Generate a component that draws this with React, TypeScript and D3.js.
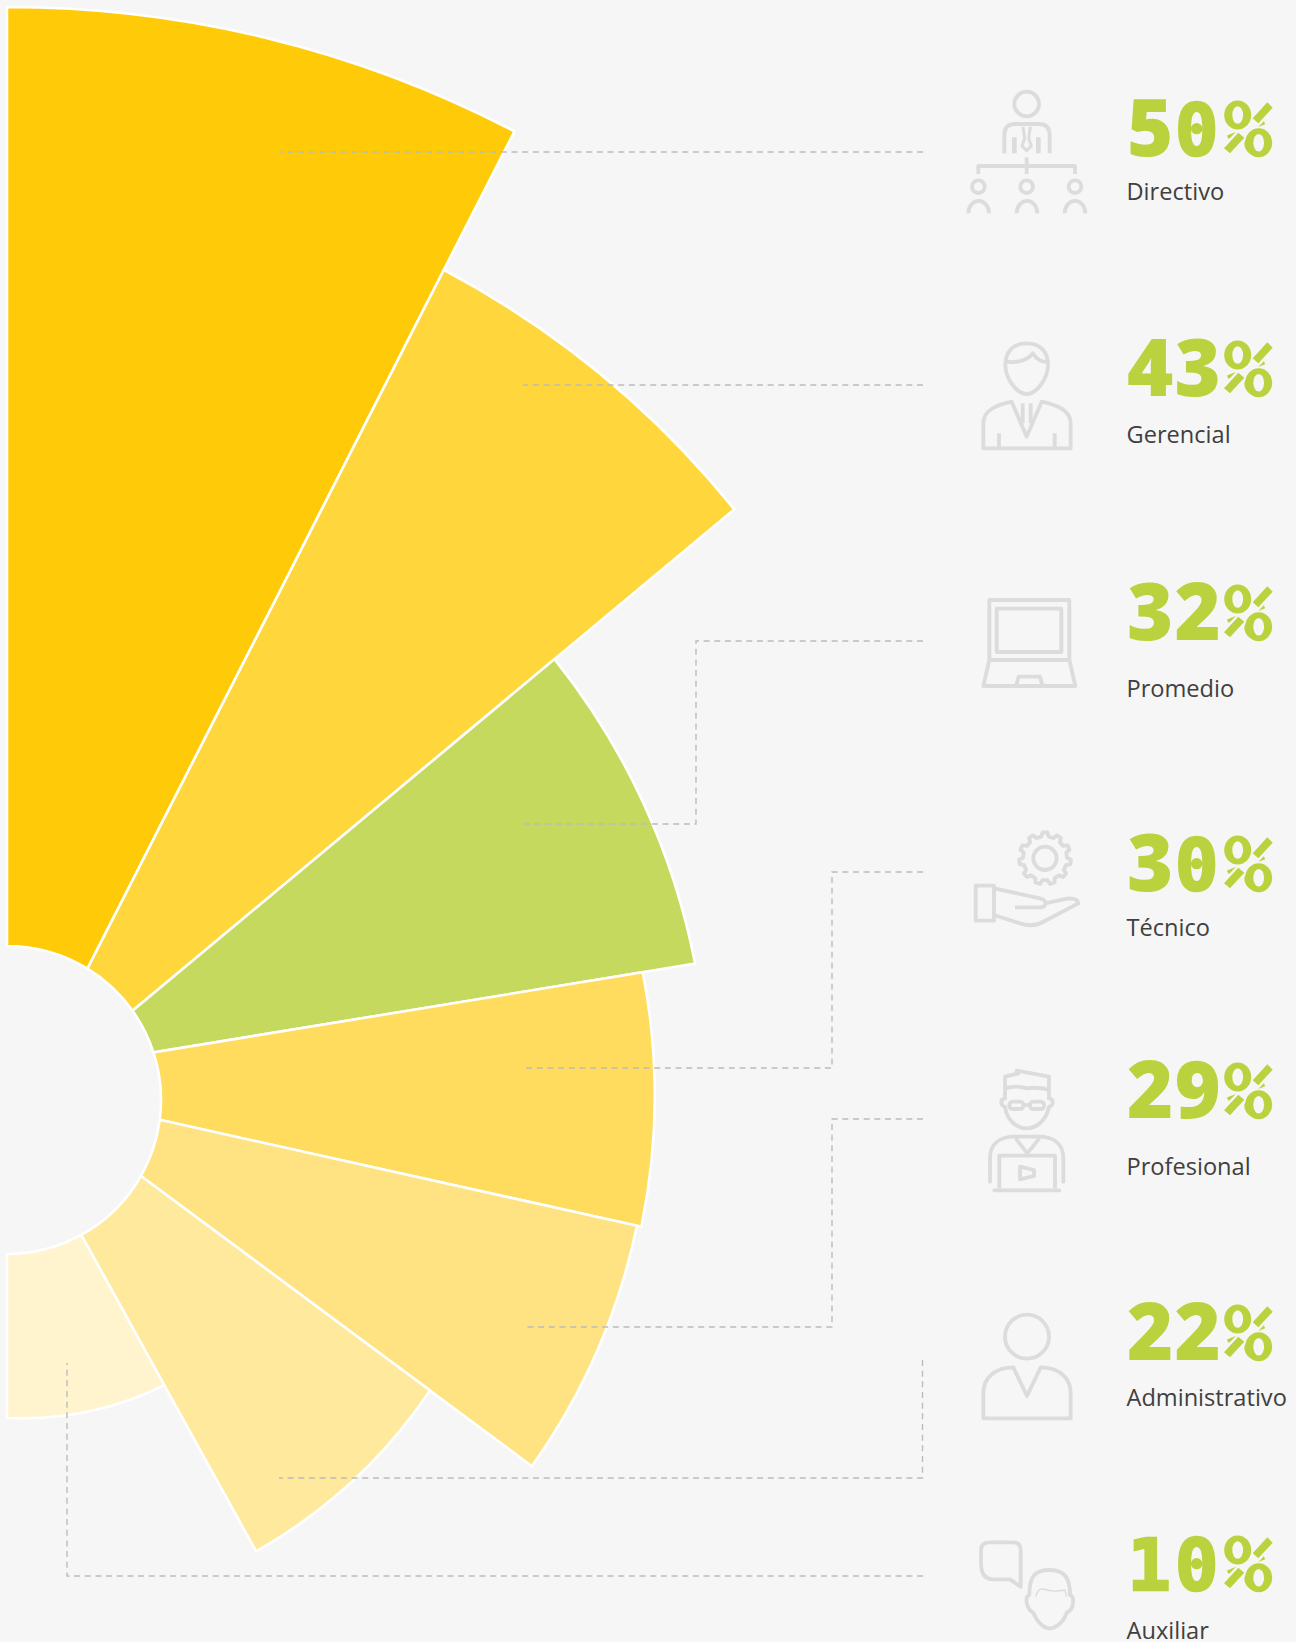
import React from "react";
import * as d3 from "d3";

const categories = ["Directivo", "Gerencial", "Promedio", "Técnico", "Profesional", "Administrativo", "Auxiliar"];
const values = [50, 43, 32, 30, 29, 22, 10];
const outerEndDeg = [27.65, 50.92, 78.79, 101.3, 124.9, 151.1, 180];
const innerDeg = [0, 31.5, 54.6, 72, 97.4, 119.6, 151.2, 180];
const fills = ["#FFCB08", "#FFD63C", "#C4D95E", "#FFDC5D", "#FFE382", "#FEE99C", "#FFF4CE"];
const numberBaselines = [156, 396, 640, 891, 1118, 1360, 1591];
const labelBaselines = [200, 443, 697, 936, 1175, 1406, 1639];

const W = 1296, H = 1642, CX = 7, CY = 1100, INNER = 154, BG = "#F6F6F6", GREEN = "#BAD23E";
const radiusStart = d3.scaleLinear().domain(values).range([1093, 938, 703, 648.5, 642.4, 513.2, 325.7]);
const radiusEnd = d3.scaleLinear().domain(values).range([1093.5, 937, 701.5, 646.9, 640, 515.5, 318]);
const toRad = (d: number) => (d * Math.PI) / 180;
const line = d3.line<number[]>();

// The seam between two petals is one straight line: the start of a petal is where
// the previous petal's end edge crosses this petal's own radius.
function onEdge(from: number[], to: number[], r: number) {
  const dx = to[0] - from[0], dy = to[1] - from[1];
  const A = dx * dx + dy * dy, B = from[0] * dx + from[1] * dy, C = from[0] * from[0] + from[1] * from[1] - r * r;
  const t = (-B + Math.sqrt(B * B - A * C)) / A;
  return [from[0] + t * dx, from[1] + t * dy];
}

function wedge(i: number) {
  const v = values[i];
  const r0 = radiusStart(v), r1 = radiusEnd(v);
  const c = d3.pointRadial(toRad(innerDeg[i + 1]), INNER);
  const d = d3.pointRadial(toRad(innerDeg[i]), INNER);
  const a = i === 0
    ? d3.pointRadial(0, r0)
    : onEdge(d, d3.pointRadial(toRad(outerEndDeg[i - 1]), radiusEnd(values[i - 1])), r0);
  const b = d3.pointRadial(toRad(outerEndDeg[i]), r1);
  const R = (r0 + r1) / 2;
  return `M${a}A${R},${R} 0 0 1 ${b}L${c}A${INNER},${INNER} 0 0 0 ${d}Z`;
}

const leaders: number[][][] = [
  [[923, 152], [279, 152]],
  [[923, 385], [523, 385]],
  [[923, 641], [696, 641], [696, 824], [523, 824]],
  [[923, 872], [832, 872], [832, 1068], [523, 1068]],
  [[923, 1119], [832, 1119], [832, 1327], [523, 1327]],
  [[922.5, 1360], [922.5, 1478], [279, 1478]],
  [[923, 1576], [67, 1576], [67, 1363]],
];

const gearPts: [number, number][] = d3.range(11).flatMap((i) => {
  const a = (i * 2 * Math.PI) / 11, s = (2 * Math.PI) / 11;
  return [
    [a - s * 0.3, 66], [a - s * 0.16, 78], [a + s * 0.16, 78], [a + s * 0.3, 66],
  ] as [number, number][];
});
const gearPath = d3.lineRadial().curve(d3.curveLinearClosed)(gearPts) as string;

const Z = ({ x, y, children }: any) => (
  <g transform={`translate(${x},${y}) scale(${1 / 3})`} fill="none" stroke="#DCDCDC" strokeWidth={11.5} strokeLinejoin="round">{children}</g>
);

const icons = [
  <Z x={950} y={70} key="0">
    <circle cx={230} cy={102} r={37} />
    <path d="M163,250V195Q163,162 196,162H266Q299,162 299,195V250" />
    <path d="M193,202V250M265,202V250" strokeWidth={14} />
    <path d="M219,170L224,205L216,228L230,242L244,228L236,205L241,170" strokeWidth={9} />
    <path d="M230,262V312M85,312V288H375V312" />
    <circle cx={85} cy={350} r={19} /><circle cx={230} cy={350} r={19} /><circle cx={375} cy={350} r={19} />
    <path d="M55,430A30,36 0 0 1 117,430M200,430A30,36 0 0 1 262,430M344,430A30,36 0 0 1 406,430" />
  </Z>,
  <Z x={950} y={70} key="1">
    <path d="M230,820C190,820 166,845 166,885C166,925 200,972 230,972C260,972 294,925 294,885C294,845 270,820 230,820Z" />
    <path d="M168,875C200,880 235,870 248,850C260,870 280,878 294,875" />
    <path d="M100,1135V1060C100,1020 140,1005 185,995L230,1100L275,995C320,1005 362,1020 362,1060V1135Z" />
    <path d="M218,1000V1060M242,1000V1060M147,1090V1135M314,1090V1135" />
  </Z>,
  <Z x={950} y={570} key="2">
    <path d="M118,268V90H358V268" />
    <rect x={140} y={116} width={194} height={130} />
    <path d="M118,270H358L376,348H100Z" />
    <path d="M198,348L206,320H270L278,348" />
  </Z>,
  <Z x={950} y={570} key="3">
    <path d={gearPath} transform="translate(285,865)" />
    <circle cx={285} cy={865} r={35} />
    <rect x={77} y={947} width={55} height={105} />
    <path d="M132,955L270,985Q290,990 285,1005Q280,1014 265,1012H195" />
    <path d="M285,1000L355,985Q385,985 385,1000L290,1050Q250,1075 210,1060L132,1035" />
  </Z>,
  <Z x={950} y={1040} key="4">
    <path d="M165,180C150,170 150,200 165,200C170,240 200,265 230,265C260,265 290,240 297,200C312,200 312,170 297,180" />
    <path d="M165,180V110L205,100L200,92L297,110V180M165,145Q200,135 230,145Q265,140 297,150" />
    <rect x={178} y={185} width={42} height={22} rx={10} /><rect x={240} y={185} width={42} height={22} rx={10} />
    <path d="M220,195H240" />
    <path d="M120,425V355C120,310 150,290 195,290H265C310,290 340,310 340,355V425" strokeLinecap="round" />
    <path d="M197,295L232,340L268,295" />
    <path d="M148,445V347H315V445" />
    <path d="M133,451H328" strokeLinecap="round" />
    <path d="M210,380L252,390V408L210,418Z" />
  </Z>,
  <Z x={950} y={1040} key="5">
    <circle cx={231} cy={890} r={66} />
    <path d="M100,1135V1060C100,1010 140,982 190,982L231,1068L272,982C322,982 362,1010 362,1060V1135Z" />
  </Z>,
  <Z x={950} y={1440} key="6">
    <path d="M120,307H190Q212,307 212,330V440L180,418H130Q93,418 93,370V330Q93,307 120,307Z" />
    <path d="M298,390C250,390 238,415 238,465C222,470 230,510 250,518C262,550 285,565 298,565C315,565 340,550 350,518C372,510 375,470 360,465C360,415 345,390 298,390Z" />
    <path d="M258,470Q262,445 280,447Q310,458 345,450L350,470" strokeWidth={4} />
  </Z>,
];

// Digit glyphs: the reference mixes a heavy humanist face with dotted-zero mono glyphs.
const Digit = ({ ch, x }: { ch: string; x: number }) =>
  ch === "0" || ch === "1" ? (
    <tspan x={x + 0.5} y={-1.5} fontFamily="'DejaVu Sans Mono'" fontWeight={700} fontSize={72} stroke={GREEN} strokeWidth={2.6}>{ch}</tspan>
  ) : (
    <tspan x={x} y={0} fontFamily="'Open Sans'" fontWeight={800} fontSize={79}>{ch}</tspan>
  );

export default function App() {
  return (
    <svg width={W} height={H} viewBox={`0 0 ${W} ${H}`} style={{ position: "absolute", left: 0, top: 0, display: "block", background: BG }}>
      <rect width={W} height={H} fill={BG} />
      <g transform={`translate(${CX},${CY})`}>
        {values.map((v, i) => (
          <path key={categories[i]} d={wedge(i)} fill={fills[i]} stroke="#fff" strokeWidth={2.6} />
        ))}
      </g>
      {leaders.map((pts, i) => (
        <path key={i} d={line(pts as any) as string} fill="none" stroke="#BCBCBC" strokeWidth={1.4} strokeDasharray="6 4.67" />
      ))}
      {icons}
      {values.map((v, i) => {
        const digits = String(v).split("");
        return (
          <g key={v} transform={`translate(1127,${numberBaselines[i]})`}>
            <text fill={GREEN}>
              {digits.map((ch, k) => <Digit key={k} ch={ch} x={k * 47.5} />)}
              <tspan x={97} y={-1} fontFamily="'DejaVu Sans Mono'" fontWeight={700} fontSize={72}>%</tspan>
            </text>
            <path d="M98,-3L144,-52" stroke={BG} strokeWidth={13} fill="none" />
            <ellipse cx={110.7} cy={-41} rx={13.5} ry={14.5} fill={GREEN} />
            <ellipse cx={110.7} cy={-41} rx={5.4} ry={8.8} fill={BG} />
            <ellipse cx={131.7} cy={-13.3} rx={13.5} ry={14.5} fill={GREEN} />
            <ellipse cx={131.7} cy={-13.3} rx={5.4} ry={8.8} fill={BG} />
            <path d="M125.7,-37.7L140.3,-53.7L145.7,-48.3L131.3,-32.7ZM97,-7.7L111.3,-23.3L117.3,-18.3L103,-2.7Z" fill={GREEN} />
          </g>
        );
      })}
      {categories.map((c, i) => (
        <text key={c} x={1126.5} y={labelBaselines[i]} fontFamily="'Open Sans'" fontSize={23.6} fill="#404040">{c}</text>
      ))}
    </svg>
  );
}
